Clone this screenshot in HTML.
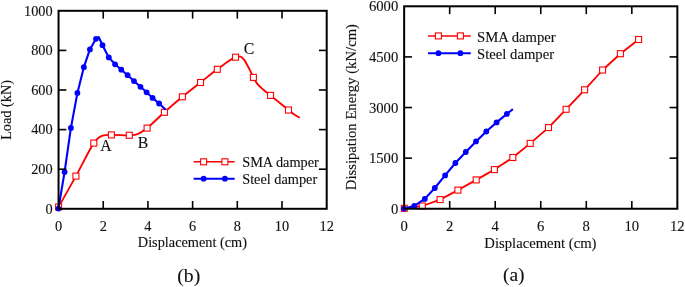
<!DOCTYPE html>
<html><head><meta charset="utf-8"><style>
html,body{margin:0;padding:0;background:#fff;}
body{width:685px;height:287px;overflow:hidden;}
svg{display:block;font-family:"Liberation Serif",serif;will-change:transform;}
text{fill:#111;stroke:#111;stroke-width:0.12px;}
</style></head><body>
<svg width="685" height="287" viewBox="0 0 685 287">
<text x="52.60" y="213.60" font-size="14.30" text-anchor="end">0</text>
<text x="52.60" y="174.00" font-size="14.30" text-anchor="end">200</text>
<text x="52.60" y="134.40" font-size="14.30" text-anchor="end">400</text>
<text x="52.60" y="94.80" font-size="14.30" text-anchor="end">600</text>
<text x="52.60" y="55.20" font-size="14.30" text-anchor="end">800</text>
<text x="52.60" y="15.60" font-size="14.30" text-anchor="end">1000</text>
<text x="58.55" y="230.60" font-size="14.30" text-anchor="middle">0</text>
<text x="103.24" y="230.60" font-size="14.30" text-anchor="middle">2</text>
<text x="147.93" y="230.60" font-size="14.30" text-anchor="middle">4</text>
<text x="192.62" y="230.60" font-size="14.30" text-anchor="middle">6</text>
<text x="237.32" y="230.60" font-size="14.30" text-anchor="middle">8</text>
<text x="282.01" y="230.60" font-size="14.30" text-anchor="middle">10</text>
<text x="326.70" y="230.60" font-size="14.30" text-anchor="middle">12</text>
<text x="192.40" y="247.40" font-size="14.30" text-anchor="middle">Displacement (cm)</text>
<text x="11.20" y="109.90" font-size="14.30" text-anchor="middle" transform="rotate(-90 11.20 109.90)">Load (kN)</text>
<text x="188.80" y="281.60" font-size="19.70" text-anchor="middle">(b)</text>
<text x="105.85" y="151.00" font-size="15.80" text-anchor="middle">A</text>
<text x="143.00" y="147.60" font-size="15.80" text-anchor="middle">B</text>
<text x="249.00" y="54.30" font-size="15.80" text-anchor="middle">C</text>
<text x="398.30" y="213.75" font-size="14.70" text-anchor="end">0</text>
<text x="398.30" y="163.14" font-size="14.70" text-anchor="end">1500</text>
<text x="398.30" y="112.53" font-size="14.70" text-anchor="end">3000</text>
<text x="398.30" y="61.91" font-size="14.70" text-anchor="end">4500</text>
<text x="398.30" y="11.30" font-size="14.70" text-anchor="end">6000</text>
<text x="404.15" y="230.80" font-size="14.70" text-anchor="middle">0</text>
<text x="449.68" y="230.80" font-size="14.70" text-anchor="middle">2</text>
<text x="495.22" y="230.80" font-size="14.70" text-anchor="middle">4</text>
<text x="540.75" y="230.80" font-size="14.70" text-anchor="middle">6</text>
<text x="586.28" y="230.80" font-size="14.70" text-anchor="middle">8</text>
<text x="631.82" y="230.80" font-size="14.70" text-anchor="middle">10</text>
<text x="677.35" y="230.80" font-size="14.70" text-anchor="middle">12</text>
<text x="540.40" y="247.70" font-size="14.70" text-anchor="middle">Displacement (cm)</text>
<text x="356.00" y="107.10" font-size="14.70" text-anchor="middle" transform="rotate(-90 356.00 107.10)">Dissipation Energy (kN/cm)</text>
<text x="513.80" y="281.20" font-size="19.50" text-anchor="middle">(a)</text>
<path d="M58.60 207.00 C64.37 196.70 70.12 186.59 75.90 176.10 C81.85 165.30 89.56 149.23 93.80 143.10 C95.62 140.48 96.60 139.22 98.30 137.90 C99.86 136.69 101.52 135.82 103.50 135.30 C105.80 134.69 108.23 134.94 111.40 134.90 C116.16 134.83 125.05 135.41 129.30 135.30 C131.66 135.24 132.98 135.32 134.80 134.90 C136.72 134.45 138.59 133.62 140.50 132.60 C142.68 131.43 144.47 130.18 147.10 128.10 C151.60 124.54 158.54 117.50 164.40 112.30 C170.30 107.06 176.34 101.80 182.40 96.80 C188.37 91.87 194.58 87.17 200.50 82.50 C206.20 78.01 211.50 73.50 217.30 69.30 C223.16 65.06 231.18 58.74 235.50 57.20 C237.57 56.46 239.06 56.26 240.50 56.70 C241.87 57.12 242.95 58.37 244.00 59.60 C245.23 61.04 246.15 63.12 247.20 65.00 C248.32 67.01 249.45 69.21 250.50 71.30 C251.52 73.34 252.29 75.34 253.40 77.40 C254.60 79.63 255.84 82.15 257.50 84.20 C259.19 86.29 261.39 87.97 263.50 89.80 C265.71 91.71 267.63 93.09 270.50 95.40 C275.11 99.12 284.15 106.51 288.50 110.00 C290.96 111.97 292.34 113.27 294.30 114.60 C296.11 115.84 297.97 116.73 299.80 117.80" fill="none" stroke="#ff0000" stroke-width="1.85" stroke-linejoin="round"/>
<rect x="55.60" y="204.00" width="6.00" height="6.00" fill="#fff" stroke="#ff0000" stroke-width="1.10"/>
<rect x="72.90" y="173.10" width="6.00" height="6.00" fill="#fff" stroke="#ff0000" stroke-width="1.10"/>
<rect x="90.80" y="140.10" width="6.00" height="6.00" fill="#fff" stroke="#ff0000" stroke-width="1.10"/>
<rect x="108.40" y="131.90" width="6.00" height="6.00" fill="#fff" stroke="#ff0000" stroke-width="1.10"/>
<rect x="126.30" y="132.30" width="6.00" height="6.00" fill="#fff" stroke="#ff0000" stroke-width="1.10"/>
<rect x="144.10" y="125.10" width="6.00" height="6.00" fill="#fff" stroke="#ff0000" stroke-width="1.10"/>
<rect x="161.40" y="109.30" width="6.00" height="6.00" fill="#fff" stroke="#ff0000" stroke-width="1.10"/>
<rect x="179.40" y="93.80" width="6.00" height="6.00" fill="#fff" stroke="#ff0000" stroke-width="1.10"/>
<rect x="197.50" y="79.50" width="6.00" height="6.00" fill="#fff" stroke="#ff0000" stroke-width="1.10"/>
<rect x="214.30" y="66.30" width="6.00" height="6.00" fill="#fff" stroke="#ff0000" stroke-width="1.10"/>
<rect x="232.50" y="54.20" width="6.00" height="6.00" fill="#fff" stroke="#ff0000" stroke-width="1.10"/>
<rect x="250.40" y="74.40" width="6.00" height="6.00" fill="#fff" stroke="#ff0000" stroke-width="1.10"/>
<rect x="267.50" y="92.40" width="6.00" height="6.00" fill="#fff" stroke="#ff0000" stroke-width="1.10"/>
<rect x="285.50" y="107.00" width="6.00" height="6.00" fill="#fff" stroke="#ff0000" stroke-width="1.10"/>
<path d="M58.40 208.60 L64.60 172.00 L70.90 127.90 L77.40 93.00 L83.85 67.20 L89.90 49.40 L96.00 38.80 L98.80 37.20 L102.50 45.20 L108.80 57.40 L115.10 64.30 L121.30 69.70 L127.60 75.20 L134.00 81.10 L140.50 86.80 L146.60 92.30 L152.60 97.90 L159.10 103.50 L165.70 109.70" fill="none" stroke="#0000ff" stroke-width="2.1" stroke-linejoin="round"/>
<circle cx="58.40" cy="208.60" r="2.90" fill="#0000ff"/>
<circle cx="64.60" cy="172.00" r="2.90" fill="#0000ff"/>
<circle cx="70.90" cy="127.90" r="2.90" fill="#0000ff"/>
<circle cx="77.40" cy="93.00" r="2.90" fill="#0000ff"/>
<circle cx="83.85" cy="67.20" r="2.90" fill="#0000ff"/>
<circle cx="89.90" cy="49.40" r="2.90" fill="#0000ff"/>
<circle cx="96.00" cy="38.80" r="2.90" fill="#0000ff"/>
<circle cx="102.50" cy="45.20" r="2.90" fill="#0000ff"/>
<circle cx="108.80" cy="57.40" r="2.90" fill="#0000ff"/>
<circle cx="115.10" cy="64.30" r="2.90" fill="#0000ff"/>
<circle cx="121.30" cy="69.70" r="2.90" fill="#0000ff"/>
<circle cx="127.60" cy="75.20" r="2.90" fill="#0000ff"/>
<circle cx="134.00" cy="81.10" r="2.90" fill="#0000ff"/>
<circle cx="140.50" cy="86.80" r="2.90" fill="#0000ff"/>
<circle cx="146.60" cy="92.30" r="2.90" fill="#0000ff"/>
<circle cx="152.60" cy="97.90" r="2.90" fill="#0000ff"/>
<circle cx="159.10" cy="103.50" r="2.90" fill="#0000ff"/>
<path d="M404.30 208.30 L422.30 206.00 L440.10 199.60 L457.90 190.10 L476.20 179.90 L494.40 169.60 L512.80 157.50 L530.20 143.40 L548.50 127.60 L566.10 109.30 L584.60 89.80 L602.60 70.00 L620.40 53.70 L638.60 39.50" fill="none" stroke="#ff0000" stroke-width="1.85" stroke-linejoin="round"/>
<rect x="401.30" y="205.30" width="6.00" height="6.00" fill="#fff" stroke="#ff0000" stroke-width="1.10"/>
<rect x="419.30" y="203.00" width="6.00" height="6.00" fill="#fff" stroke="#ff0000" stroke-width="1.10"/>
<rect x="437.10" y="196.60" width="6.00" height="6.00" fill="#fff" stroke="#ff0000" stroke-width="1.10"/>
<rect x="454.90" y="187.10" width="6.00" height="6.00" fill="#fff" stroke="#ff0000" stroke-width="1.10"/>
<rect x="473.20" y="176.90" width="6.00" height="6.00" fill="#fff" stroke="#ff0000" stroke-width="1.10"/>
<rect x="491.40" y="166.60" width="6.00" height="6.00" fill="#fff" stroke="#ff0000" stroke-width="1.10"/>
<rect x="509.80" y="154.50" width="6.00" height="6.00" fill="#fff" stroke="#ff0000" stroke-width="1.10"/>
<rect x="527.20" y="140.40" width="6.00" height="6.00" fill="#fff" stroke="#ff0000" stroke-width="1.10"/>
<rect x="545.50" y="124.60" width="6.00" height="6.00" fill="#fff" stroke="#ff0000" stroke-width="1.10"/>
<rect x="563.10" y="106.30" width="6.00" height="6.00" fill="#fff" stroke="#ff0000" stroke-width="1.10"/>
<rect x="581.60" y="86.80" width="6.00" height="6.00" fill="#fff" stroke="#ff0000" stroke-width="1.10"/>
<rect x="599.60" y="67.00" width="6.00" height="6.00" fill="#fff" stroke="#ff0000" stroke-width="1.10"/>
<rect x="617.40" y="50.70" width="6.00" height="6.00" fill="#fff" stroke="#ff0000" stroke-width="1.10"/>
<rect x="635.60" y="36.50" width="6.00" height="6.00" fill="#fff" stroke="#ff0000" stroke-width="1.10"/>
<path d="M403.90 208.60 L414.30 205.90 L424.80 198.90 L434.80 188.00 L445.10 175.40 L455.40 163.00 L465.80 152.00 L476.00 141.40 L486.30 131.50 L496.60 122.40 L506.90 113.90 L512.90 109.10" fill="none" stroke="#0000ff" stroke-width="2.1" stroke-linejoin="round"/>
<circle cx="403.90" cy="208.60" r="2.90" fill="#0000ff"/>
<circle cx="414.30" cy="205.90" r="2.90" fill="#0000ff"/>
<circle cx="424.80" cy="198.90" r="2.90" fill="#0000ff"/>
<circle cx="434.80" cy="188.00" r="2.90" fill="#0000ff"/>
<circle cx="445.10" cy="175.40" r="2.90" fill="#0000ff"/>
<circle cx="455.40" cy="163.00" r="2.90" fill="#0000ff"/>
<circle cx="465.80" cy="152.00" r="2.90" fill="#0000ff"/>
<circle cx="476.00" cy="141.40" r="2.90" fill="#0000ff"/>
<circle cx="486.30" cy="131.50" r="2.90" fill="#0000ff"/>
<circle cx="496.60" cy="122.40" r="2.90" fill="#0000ff"/>
<circle cx="506.90" cy="113.90" r="2.90" fill="#0000ff"/>
<rect x="58.55" y="10.80" width="268.15" height="198.00" fill="none" stroke="#000" stroke-width="2.0"/>
<line x1="103.24" y1="208.80" x2="103.24" y2="201.00" stroke="#000" stroke-width="1.6"/>
<line x1="103.24" y1="10.80" x2="103.24" y2="18.60" stroke="#000" stroke-width="1.6"/>
<line x1="147.93" y1="208.80" x2="147.93" y2="201.00" stroke="#000" stroke-width="1.6"/>
<line x1="147.93" y1="10.80" x2="147.93" y2="18.60" stroke="#000" stroke-width="1.6"/>
<line x1="192.62" y1="208.80" x2="192.62" y2="201.00" stroke="#000" stroke-width="1.6"/>
<line x1="192.62" y1="10.80" x2="192.62" y2="18.60" stroke="#000" stroke-width="1.6"/>
<line x1="237.32" y1="208.80" x2="237.32" y2="201.00" stroke="#000" stroke-width="1.6"/>
<line x1="237.32" y1="10.80" x2="237.32" y2="18.60" stroke="#000" stroke-width="1.6"/>
<line x1="282.01" y1="208.80" x2="282.01" y2="201.00" stroke="#000" stroke-width="1.6"/>
<line x1="282.01" y1="10.80" x2="282.01" y2="18.60" stroke="#000" stroke-width="1.6"/>
<line x1="58.55" y1="169.20" x2="66.35" y2="169.20" stroke="#000" stroke-width="1.6"/>
<line x1="326.70" y1="169.20" x2="318.90" y2="169.20" stroke="#000" stroke-width="1.6"/>
<line x1="58.55" y1="129.60" x2="66.35" y2="129.60" stroke="#000" stroke-width="1.6"/>
<line x1="326.70" y1="129.60" x2="318.90" y2="129.60" stroke="#000" stroke-width="1.6"/>
<line x1="58.55" y1="90.00" x2="66.35" y2="90.00" stroke="#000" stroke-width="1.6"/>
<line x1="326.70" y1="90.00" x2="318.90" y2="90.00" stroke="#000" stroke-width="1.6"/>
<line x1="58.55" y1="50.40" x2="66.35" y2="50.40" stroke="#000" stroke-width="1.6"/>
<line x1="326.70" y1="50.40" x2="318.90" y2="50.40" stroke="#000" stroke-width="1.6"/>
<rect x="404.15" y="6.30" width="273.20" height="202.45" fill="none" stroke="#000" stroke-width="2.0"/>
<line x1="449.68" y1="208.75" x2="449.68" y2="200.95" stroke="#000" stroke-width="1.6"/>
<line x1="449.68" y1="6.30" x2="449.68" y2="14.10" stroke="#000" stroke-width="1.6"/>
<line x1="495.22" y1="208.75" x2="495.22" y2="200.95" stroke="#000" stroke-width="1.6"/>
<line x1="495.22" y1="6.30" x2="495.22" y2="14.10" stroke="#000" stroke-width="1.6"/>
<line x1="540.75" y1="208.75" x2="540.75" y2="200.95" stroke="#000" stroke-width="1.6"/>
<line x1="540.75" y1="6.30" x2="540.75" y2="14.10" stroke="#000" stroke-width="1.6"/>
<line x1="586.28" y1="208.75" x2="586.28" y2="200.95" stroke="#000" stroke-width="1.6"/>
<line x1="586.28" y1="6.30" x2="586.28" y2="14.10" stroke="#000" stroke-width="1.6"/>
<line x1="631.82" y1="208.75" x2="631.82" y2="200.95" stroke="#000" stroke-width="1.6"/>
<line x1="631.82" y1="6.30" x2="631.82" y2="14.10" stroke="#000" stroke-width="1.6"/>
<line x1="404.15" y1="158.14" x2="411.95" y2="158.14" stroke="#000" stroke-width="1.6"/>
<line x1="677.35" y1="158.14" x2="669.55" y2="158.14" stroke="#000" stroke-width="1.6"/>
<line x1="404.15" y1="107.53" x2="411.95" y2="107.53" stroke="#000" stroke-width="1.6"/>
<line x1="677.35" y1="107.53" x2="669.55" y2="107.53" stroke="#000" stroke-width="1.6"/>
<line x1="404.15" y1="56.91" x2="411.95" y2="56.91" stroke="#000" stroke-width="1.6"/>
<line x1="677.35" y1="56.91" x2="669.55" y2="56.91" stroke="#000" stroke-width="1.6"/>
<line x1="193.60" y1="161.80" x2="234.70" y2="161.80" stroke="#ff0000" stroke-width="1.5"/>
<rect x="200.60" y="158.80" width="6.00" height="6.00" fill="#fff" stroke="#ff0000" stroke-width="1.10"/>
<rect x="221.90" y="158.80" width="6.00" height="6.00" fill="#fff" stroke="#ff0000" stroke-width="1.10"/>
<line x1="193.60" y1="178.70" x2="234.70" y2="178.70" stroke="#0000ff" stroke-width="2"/>
<circle cx="203.60" cy="178.70" r="2.90" fill="#0000ff"/>
<circle cx="224.90" cy="178.70" r="2.90" fill="#0000ff"/>
<text x="242.20" y="167.40" font-size="14.30" text-anchor="start">SMA damper</text>
<text x="242.20" y="183.80" font-size="14.30" text-anchor="start">Steel damper</text>
<line x1="428.10" y1="35.90" x2="470.80" y2="35.90" stroke="#ff0000" stroke-width="1.5"/>
<rect x="435.40" y="32.90" width="6.00" height="6.00" fill="#fff" stroke="#ff0000" stroke-width="1.10"/>
<rect x="457.40" y="32.90" width="6.00" height="6.00" fill="#fff" stroke="#ff0000" stroke-width="1.10"/>
<line x1="428.10" y1="53.20" x2="470.80" y2="53.20" stroke="#0000ff" stroke-width="2"/>
<circle cx="438.40" cy="53.20" r="2.90" fill="#0000ff"/>
<circle cx="460.40" cy="53.20" r="2.90" fill="#0000ff"/>
<text x="477.00" y="41.50" font-size="14.70" text-anchor="start">SMA damper</text>
<text x="477.00" y="58.50" font-size="14.70" text-anchor="start">Steel damper</text>
</svg>
</body></html>
